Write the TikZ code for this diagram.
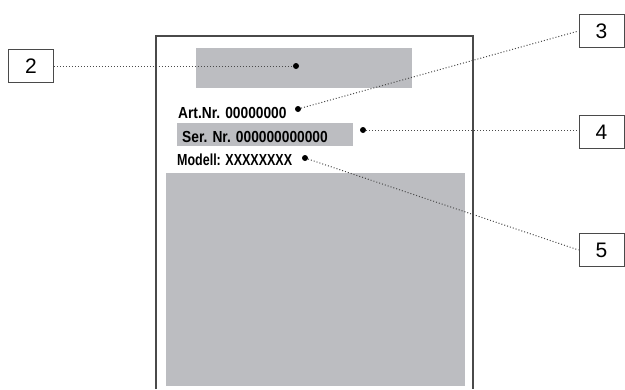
\documentclass[tikz,border=0pt]{standalone}
\usepackage{fontspec}
\setmainfont{Liberation Sans}
\newfontfamily\platefont[FakeStretch=0.86]{Liberation Sans Bold}
\newfontfamily\modelfont[FakeStretch=0.78]{Liberation Sans Bold}
\usepackage{tikz}
\definecolor{plategray}{HTML}{BCBDC1}
\definecolor{framegray}{HTML}{4A4A4A}
\tikzstyle{numbox} = [rectangle, minimum width=45pt, minimum height=33pt, inner sep=0pt, draw=framegray, line width=0.9pt, fill=white, font=\fontsize{21}{21}\selectfont, text centered]
\tikzstyle{platetext} = [inner sep=0pt, anchor=base west, font=\platefont\fontsize{16}{16}\selectfont]
\tikzstyle{modeltext} = [platetext, font=\modelfont\fontsize{16}{16}\selectfont]
\tikzstyle{pindot} = [circle, fill=black, inner sep=0pt, minimum size=6pt]
\tikzstyle{leader} = [dotted, line width=1pt, draw=framegray]

\begin{document}
\begin{tikzpicture}[x=1pt, y=-1pt]
\useasboundingbox (0,0) rectangle (625,389);

% label plate
\draw [framegray, line width=1.5pt] (156,389) -- (156,36) -- (473,36) -- (473,389);
\fill [plategray] (196,48) rectangle (412,88);
\fill [plategray] (177,123) rectangle (353,146);
\fill [plategray] (166,173) rectangle (465,386);

\node (art) [platetext] at (178,118) {Art.Nr. 00000000};
\node (ser) [platetext] at (182,142) {Ser. Nr. 000000000000};
\node (mod) [modeltext] at (177,165) {Modell: XXXXXXXX};

\node (dot2) [pindot] at (296,66) {};
\node (dot3) [pindot] at (298,109) {};
\node (dot4) [pindot] at (363,130) {};
\node (dot5) [pindot] at (305,158) {};

% callouts
\node (n2) [numbox] at (31,66) {2};
\node (n3) [numbox] at (601.5,31) {3};
\node (n4) [numbox] at (601.5,132) {4};
\node (n5) [numbox] at (601.5,250) {5};

\draw [leader] (n2.east) -- (dot2);
\draw [leader] (dot3) -- (n3.west);
\draw [leader] (dot4) -- (n4.west |- dot4);
\draw [leader] (dot5) -- (n5.west);

\end{tikzpicture}
\end{document}
